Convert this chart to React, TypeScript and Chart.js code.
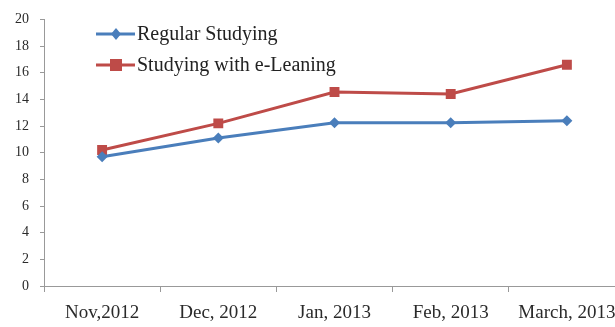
import React, { useEffect, useRef } from "react";
import { Chart, registerables } from "chart.js";

Chart.register(...registerables);

const categories = ["Nov,2012", "Dec, 2012", "Jan, 2013", "Feb, 2013", "March, 2013"];
const regularStudying = [9.7, 11.1, 12.25, 12.25, 12.4];
const eLearning = [10.2, 12.2, 14.55, 14.4, 16.6];
const seriesLabels = ["Regular Studying", "Studying with e-Leaning"];
const blue = "#4A7EBB";
const red = "#BE4B48";

const legendPlugin = {
  id: "insideLegend",
  afterDraw(chart: any) {
    const ctx = chart.ctx;
    const rows = [
      { y: 34, color: blue, style: "rectRot", r: 5 },
      { y: 65, color: red, style: "rect", r: 6 },
    ];
    ctx.save();
    chart.data.datasets.forEach((ds: any, i: number) => {
      const row = rows[i];
      ctx.strokeStyle = row.color;
      ctx.lineWidth = 3;
      ctx.beginPath();
      ctx.moveTo(96, row.y);
      ctx.lineTo(135, row.y);
      ctx.stroke();
      ctx.fillStyle = row.color;
      if (row.style === "rect") {
        ctx.fillRect(116 - row.r, row.y - row.r, row.r * 2, row.r * 2);
      } else {
        ctx.beginPath();
        ctx.moveTo(116, row.y - row.r - 1);
        ctx.lineTo(116 + row.r, row.y);
        ctx.lineTo(116, row.y + row.r + 1);
        ctx.lineTo(116 - row.r, row.y);
        ctx.closePath();
        ctx.fill();
      }
      ctx.fillStyle = "#222";
      ctx.font = "20px 'Liberation Serif', serif";
      ctx.textBaseline = "middle";
      ctx.textAlign = "left";
      ctx.fillText(ds.label, 137, row.y + 1);
    });
    ctx.restore();
  },
};

export default function App() {
  const ref = useRef<HTMLCanvasElement | null>(null);
  useEffect(() => {
    if (!ref.current) return;
    const chart = new Chart(ref.current, {
      type: "line",
      data: {
        labels: categories,
        datasets: [
          {
            label: seriesLabels[0],
            data: regularStudying,
            borderColor: blue,
            backgroundColor: blue,
            borderWidth: 3,
            pointStyle: "rectRot",
            pointRadius: 5.5,
            pointBorderWidth: 0,
            tension: 0,
          },
          {
            label: seriesLabels[1],
            data: eLearning,
            borderColor: red,
            backgroundColor: red,
            borderWidth: 3,
            pointStyle: "rect",
            pointRadius: 7,
            pointBorderWidth: 0,
            tension: 0,
          },
        ],
      },
      options: {
        animation: false,
        responsive: false,
        maintainAspectRatio: false,
        layout: { padding: { top: 17, right: 5, left: 0, bottom: 0 } },
        plugins: { legend: { display: false }, tooltip: { enabled: false } },
        scales: {
          x: {
            offset: true,
            grid: {
              display: true,
              drawOnChartArea: false,
              offset: true,
              tickLength: 6,
              color: "#999",
            },
            border: { display: true, color: "#999", width: 1 },
            ticks: {
              color: "#2a2a2a",
              font: { family: "'Liberation Serif', serif", size: 19 },
              padding: 10,
              maxRotation: 0,
              autoSkip: false,
            },
            afterFit(scale: any) {
              scale.height = 41;
            },
          },
          y: {
            min: 0,
            max: 20,
            ticks: {
              stepSize: 2,
              color: "#2a2a2a",
              font: { family: "'Liberation Serif', serif", size: 14 },
              padding: 11,
            },
            grid: {
              display: true,
              drawOnChartArea: false,
              tickLength: 4,
              color: "#999",
            },
            border: { display: true, color: "#999", width: 1 },
            afterFit(scale: any) {
              scale.width = 44;
            },
          },
        },
      },
      plugins: [legendPlugin],
    });
    return () => chart.destroy();
  }, []);
  return (
    <div
      style={{
        position: "absolute",
        left: 0,
        top: 0,
        width: 615,
        height: 327,
        overflow: "hidden",
        background: "#fff",
      }}
    >
      <canvas ref={ref} width={632} height={327} style={{ width: 632, height: 327, display: "block" }} />
    </div>
  );
}
